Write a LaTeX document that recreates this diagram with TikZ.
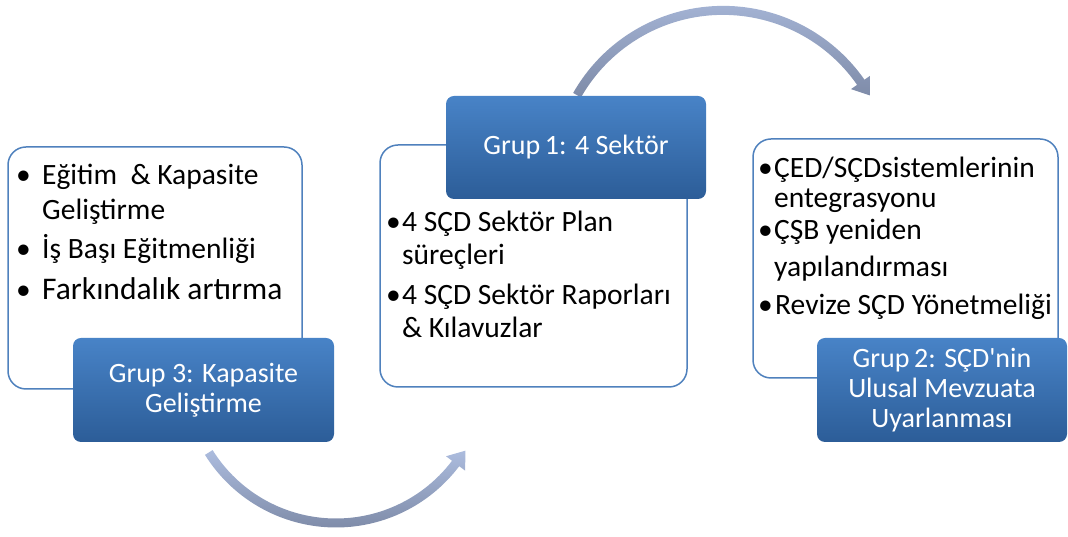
\documentclass[tikz,border=0pt]{standalone}
\usepackage{fontspec}
\setmainfont{Carlito}[Ligatures=TeXOff]
\definecolor{panelline}{RGB}{79,129,189}
\definecolor{gruptop}{RGB}{72,131,199}
\definecolor{grupbot}{RGB}{44,93,152}
\definecolor{oktop}{RGB}{172,188,222}
\definecolor{okbot}{RGB}{126,139,168}
\tikzset{
  panel/.style={draw=panelline, line width=1.5pt, rounded corners=18pt, fill=white, inner sep=0pt},
  grup/.style={rounded corners=8pt, top color=gruptop, bottom color=grupbot, text=white,
    align=center, inner sep=0pt, font=\fontsize{28}{30}\selectfont},
  madde/.style={anchor=base west, inner sep=0pt, font=\fontsize{29.5}{32}\selectfont},
  nokta/.style={anchor=base east, inner sep=0pt, font=\fontsize{29.5}{32}\selectfont},
}
\begin{document}
\begin{tikzpicture}[x=1pt,y=1pt]
\useasboundingbox (0,0) rectangle (1068,537);
% oklar
\coordinate (ustmerkez) at (723,358.6);
\coordinate (altmerkez) at (336,164);
\shade[shift={(ustmerkez)}, top color=oktop, bottom color=okbot]
  (150.3:172.5) arc[start angle=150.3, end angle=34.9, radius=172.5]
  -- (34.9:180) -- (146.9,83.0) -- (34.9:156) -- (34.9:163.5)
  arc[start angle=34.9, end angle=150.3, radius=163.5] -- cycle;
\shade[shift={(altmerkez)}, top color=oktop, bottom color=okbot]
  (212:154.5) arc[start angle=212, end angle=322.9, radius=154.5]
  -- (322.9:162) -- (129.3,-77.7) -- (322.9:138) -- (322.9:145.5)
  arc[start angle=322.9, end angle=212, radius=145.5] -- cycle;

% kutular
\node[panel, minimum width=294pt, minimum height=242pt] (kutu3) at (155,269) {};
\node[panel, minimum width=307pt, minimum height=242pt] (kutu1) at (533.5,271) {};
\node[panel, minimum width=305pt, minimum height=239pt] (kutu2) at (905.5,278.5) {};

\node[grup, minimum width=261pt, minimum height=104pt] (grup3) at (203.5,147) {Grup 3: Kapasite\\Geliştirme};
\node[grup, minimum width=260pt, minimum height=103pt] (grup1) at (576,389.5) {Grup\,1: 4 Sektör};
\node[grup, minimum width=250pt, minimum height=104pt] (grup2) at (942,147) {Grup\,2: SÇD'nin\\Ulusal Mevzuata\\Uyarlanması};

% grup 3 maddeleri
\node[madde] (m3a) at (42,352) {Eğitim \ \& Kapasite};
\node[madde] (m3b) at (42,317) {Geliştirme};
\node[madde] (m3c) at (42,278) {İş Başı Eğitmenliği};
\node[madde, font=\fontsize{31.5}{34}\selectfont] (m3d) at (42,237) {Farkındalık artırma};
\foreach \y in {352,278,237}
  \node[nokta] (n3-\y) at (31,\y) {\textbullet};

% grup 1 maddeleri
\node[madde] (m1a) at (402,305) {4 SÇD Sektör Plan};
\node[madde] (m1b) at (402,272) {süreçleri};
\node[madde] (m1c) at (402,232) {4 SÇD Sektör Raporları};
\node[madde] (m1d) at (402,199) {\& Kılavuzlar};
\foreach \y in {305,232}
  \node[nokta] (n1-\y) at (401,\y) {\textbullet};

% grup 2 maddeleri
\node[madde] (m2a) at (774,359) {ÇED/SÇDsistemlerinin};
\node[madde] (m2b) at (774,329) {entegrasyonu};
\node[madde] (m2c) at (774,297) {ÇŞB yeniden};
\node[madde] (m2d) at (774,260) {yapılandırması};
\node[madde] (m2e) at (775,222) {Revize SÇD Yönetmeliği};
\foreach \y in {359,297,222}
  \node[nokta] (n2-\y) at (773,\y) {\textbullet};
\end{tikzpicture}
\end{document}
